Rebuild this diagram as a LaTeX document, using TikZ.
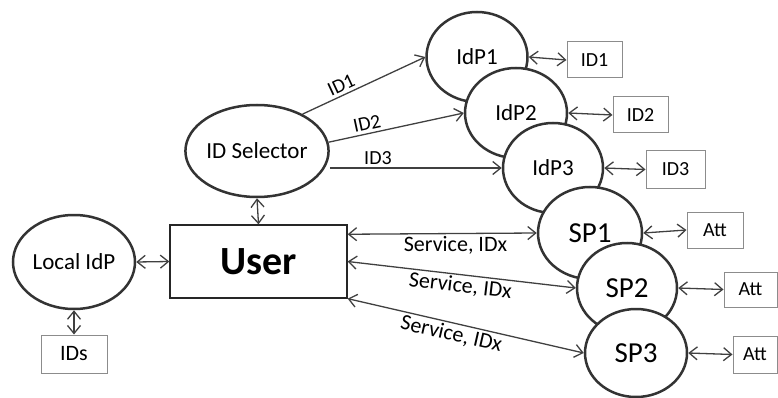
\documentclass[tikz,border=0pt]{standalone}
\usepackage{fontspec}
\setmainfont{Carlito}
\usetikzlibrary{arrows.meta,shapes.geometric}
\begin{document}
\begin{tikzpicture}[x=1pt,y=-1pt,
  ell/.style={ellipse, draw=black!80, line width=2.5pt, fill=white, inner sep=0pt, font=\fontsize{23}{26}\selectfont},
  spell/.style={ell, font=\fontsize{29}{32}\selectfont},
  idbox/.style={rectangle, draw=black!45, line width=1pt, fill=white, inner sep=0pt, font=\fontsize{20}{23}\selectfont},
  conn/.style={draw=black!75, line width=1.3pt},
  tip/.tip={Straight Barb[length=8pt,width=13pt]},
  dbl/.style={conn, tip-tip},
  one/.style={conn, -tip},
  elab/.style={font=\fontsize{20}{23}\selectfont, inner sep=3pt},
  slab/.style={font=\fontsize{22}{25}\selectfont, inner sep=2pt}
]
\useasboundingbox (0,0) rectangle (778,398);

% ellipses (drawn in stacking order)
\node[ell, minimum width=138, minimum height=92] (sel) at (257,151) {ID Selector};
\node[ell, minimum width=101, minimum height=90] (idp1) at (477,57) {IdP1};
\node[ell, minimum width=102, minimum height=90] (idp2) at (516,113) {IdP2};
\node[ell, minimum width=100, minimum height=90] (idp3) at (553,168) {IdP3};
\node[spell, minimum width=104, minimum height=92] (sp1) at (590,233) {SP1};
\node[spell, minimum width=100, minimum height=90] (sp2) at (627,288) {SP2};
\node[spell, minimum width=102, minimum height=88] (sp3) at (636,353) {SP3};
\node[ell, minimum width=122, minimum height=94] (loc) at (74,262) {Local IdP};

% boxes
\node[rectangle, draw=black!85, line width=1.3pt, minimum width=177, minimum height=73, inner sep=0pt,
      font=\fontsize{40}{44}\selectfont\bfseries] (user) at (258.5,261.5) {User};
\node[idbox, minimum width=55, minimum height=36] (id1) at (594.5,60) {ID1};
\node[idbox, minimum width=55, minimum height=36] (id2) at (640.5,115) {ID2};
\node[idbox, minimum width=59, minimum height=37] (id3) at (675.5,169.5) {ID3};
\node[idbox, minimum width=56, minimum height=36] (att1) at (715,230) {Att};
\node[idbox, minimum width=53, minimum height=35] (att2) at (750.5,289.5) {Att};
\node[idbox, minimum width=44, minimum height=37] (att3) at (755,354.5) {Att};
\node[idbox, minimum width=66, minimum height=38, font=\fontsize{22}{25}\selectfont] (ids) at (74,354) {IDs};

% ID selector to IdPs
\draw[one] (sel.39) -- node[elab, pos=0.35, above, sloped] {ID1} (idp1.west);
\draw[one] (sel.7) -- node[elab, pos=0.3, above, sloped] {ID2} (idp2.west);
\draw[one] (sel.east |- idp3.west) -- node[elab, pos=0.28, above] {ID3} (idp3.west);

% IdP to ID boxes
\draw[dbl] (idp1.east) -- (id1.west);
\draw[dbl] (idp2.east) -- (id2.west);
\draw[dbl] (idp3.east) -- (id3.west);

% SP to Att
\draw[dbl] (sp1.east) -- (att1.west);
\draw[dbl] (sp2.east) -- (att2.west);
\draw[dbl] (sp3.east) -- (att3.west);

% user links
\draw[dbl] (sel.south) -- (user.north);
\draw[dbl] (loc.east) -- (user.west);
\draw[dbl] (loc.south) -- (ids.north);
\draw[dbl] (user.17.5) -- node[slab, pos=0.57, below] {Service, IDx} (sp1.west);
\draw[dbl] (user.east) -- node[slab, pos=0.5, below, sloped] {Service, IDx} (sp2.west);
\draw[dbl] (user.south east) -- node[slab, pos=0.45, below, sloped] {Service, IDx} (sp3.west);
\end{tikzpicture}
\end{document}
